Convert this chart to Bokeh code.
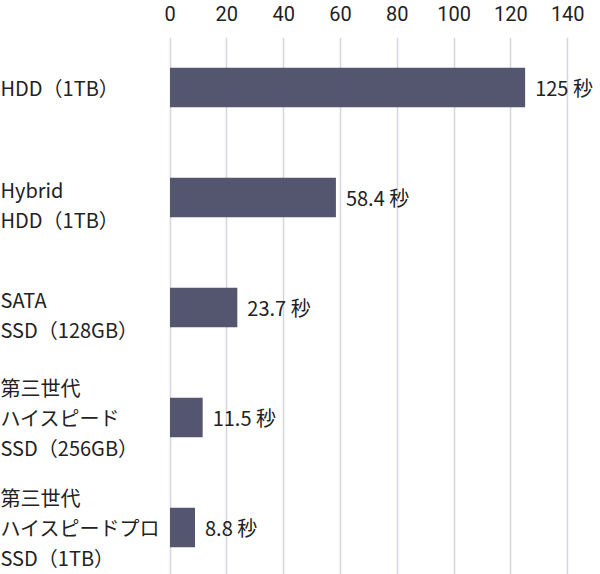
from bokeh.plotting import figure
from bokeh.models import ColumnDataSource, Range1d, LinearAxis, FixedTicker
from bokeh.core.properties import value
from bokeh.embed import file_html
from bokeh.resources import INLINE

categories = ["HDD（1TB）", "Hybrid\nHDD（1TB）", "SATA\nSSD（128GB）",
              "第三世代\nハイスピード\nSSD（256GB）", "第三世代\nハイスピードプロ\nSSD（1TB）"]
values = [125, 58.4, 23.7, 11.5, 8.8]
value_labels = ["125 秒", "58.4 秒", "23.7 秒", "11.5 秒", "8.8 秒"]
ticks = [0, 20, 40, 60, 80, 100, 120, 140]

FONT = "Noto Sans CJK JP"
TICK_FONT = "Roboto"
FS = "20px"
W, H = 600, 574
x0_px = 169.5
scale = 2.841
frame_top = 37
step = 110
c0 = 87

ypos = list(range(len(categories)))
src = ColumnDataSource(dict(
    y=ypos, v=values, lab=value_labels, cat=categories,
    yoff=[7 if c.count("\n") == 1 else 0 for c in categories],
))

x_start = -x0_px / scale
x_end = (W - x0_px) / scale
top_units = (c0 - frame_top) / step
bot_units = (H - c0) / step

p = figure(width=W, height=H, output_backend="svg", toolbar_location=None,
           x_range=Range1d(x_start, x_end),
           y_range=Range1d(bot_units, -top_units),
           x_axis_location=None, y_axis_location=None,
           min_border_left=0, min_border_right=0, min_border_bottom=0,
           min_border_top=frame_top)
p.outline_line_color = None
p.background_fill_color = "white"
p.border_fill_color = "white"

ax = LinearAxis(ticker=FixedTicker(ticks=ticks))
ax.axis_line_color = None
ax.major_tick_line_color = None
ax.minor_tick_line_color = None
ax.major_label_text_font = TICK_FONT
ax.major_label_text_font_size = FS
ax.major_label_text_color = "#222222"
ax.major_label_standoff = 11
p.add_layout(ax, "above")

p.xgrid.ticker = FixedTicker(ticks=ticks)
p.xgrid.grid_line_color = "#d5d5e1"
p.xgrid.grid_line_width = 1.5
p.ygrid.grid_line_color = None

p.hbar(y="y", left=0, right="v", height=39.5 / step, source=src,
       fill_color="#54566f", line_color=None)

p.text(x="v", y="y", text="lab", source=src, x_offset=10,
       text_font=value(FONT), text_font_size=FS, text_color="#222222",
       text_baseline="middle", text_align="left")

p.text(x=x_start, y="y", text="cat", source=src, y_offset="yoff",
       text_font=value(FONT), text_font_size=FS, text_color="#222222",
       text_baseline="middle", text_align="left", text_line_height=1.02)

open("out.html", "w").write(file_html(p, INLINE))
